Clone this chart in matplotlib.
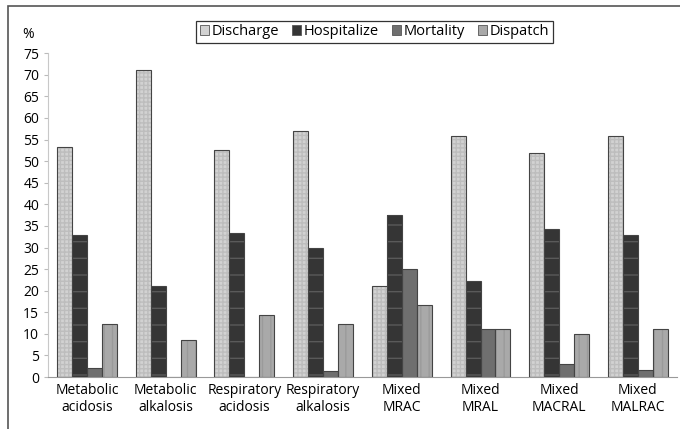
import numpy as np
import matplotlib.pyplot as plt
from matplotlib.patches import Rectangle, Patch

plt.rcParams['font.family'] = ['Open Sans', 'DejaVu Sans']

categories = ['Metabolic\nacidosis', 'Metabolic\nalkalosis', 'Respiratory\nacidosis',
              'Respiratory\nalkalosis', 'Mixed\nMRAC', 'Mixed\nMRAL', 'Mixed\nMACRAL', 'Mixed\nMALRAC']
series = ['Discharge', 'Hospitalize', 'Mortality', 'Dispatch']
discharge = [53.2, 71.0, 52.5, 57.0, 21.0, 55.8, 51.9, 55.8]
hospitalize = [32.8, 21.0, 33.4, 29.8, 37.5, 22.2, 34.4, 32.9]
mortality = [2.0, 0.0, 0.0, 1.4, 25.0, 11.1, 3.0, 1.7]
dispatch = [12.2, 8.5, 14.4, 12.2, 16.7, 11.1, 9.9, 11.2]

values = [discharge, hospitalize, mortality, dispatch]
faces = ['#d2d2d2', '#353535', '#6f6f6f', '#a9a9a9']
hatch_cols = ['#bdbdbd', '#5a5a5a', '#6f6f6f', '#9a9a9a']
hatches = ['++++', '-', None, '||']

fig = plt.figure(figsize=(6.8, 4.29), dpi=100)
ax = fig.add_axes([0.070, 0.121, 0.926, 0.755])

x = np.arange(len(categories))
w = 0.19
for i, vals in enumerate(values):
    pos = x + (i - 1.5) * w
    ax.bar(pos, vals, w, color=faces[i], edgecolor=hatch_cols[i], linewidth=0,
           hatch=hatches[i], zorder=2)
    ax.bar(pos, vals, w, fill=False, edgecolor='#444444', linewidth=0.8, zorder=3)

ax.set_xlim(-0.5, len(categories) - 0.5)
ax.set_ylim(0, 75)
ax.set_yticks(np.arange(0, 76, 5))
ax.set_xticks(x)
ax.set_xticklabels(categories, fontsize=10, linespacing=1.25)
ax.tick_params(axis='y', labelsize=10, length=3, color='#bbbbbb', pad=3)
ax.tick_params(axis='x', length=0, pad=4)
for s in ['top', 'right']:
    ax.spines[s].set_visible(False)
ax.spines['left'].set_color('#c8c8c8')
ax.spines['bottom'].set_color('#999999')
fig.text(22 / 680, 1 - 42 / 429, '%', fontsize=10, ha='left', va='bottom')

handles = [Patch(facecolor=faces[i], edgecolor='#555555', linewidth=0.6) for i in range(4)]
leg = fig.legend(handles, series, loc='center', bbox_to_anchor=(0.551, 0.926), ncol=4,
                 fontsize=10.5, frameon=True, fancybox=False, handlelength=0.6,
                 handleheight=0.6, handletextpad=0.2, columnspacing=0.9,
                 borderpad=0.25, borderaxespad=0)
leg.get_frame().set_edgecolor('black')
leg.get_frame().set_linewidth(0.9)

# outer frame, open at the right and bottom edges as in the source image
fig.add_artist(Rectangle((8 / 680, -0.1), 1.2, 1.1 - 6.5 / 429, transform=fig.transFigure,
                         fill=False, edgecolor='#555555', linewidth=1.2))

fig.savefig('out.png', dpi=100)
